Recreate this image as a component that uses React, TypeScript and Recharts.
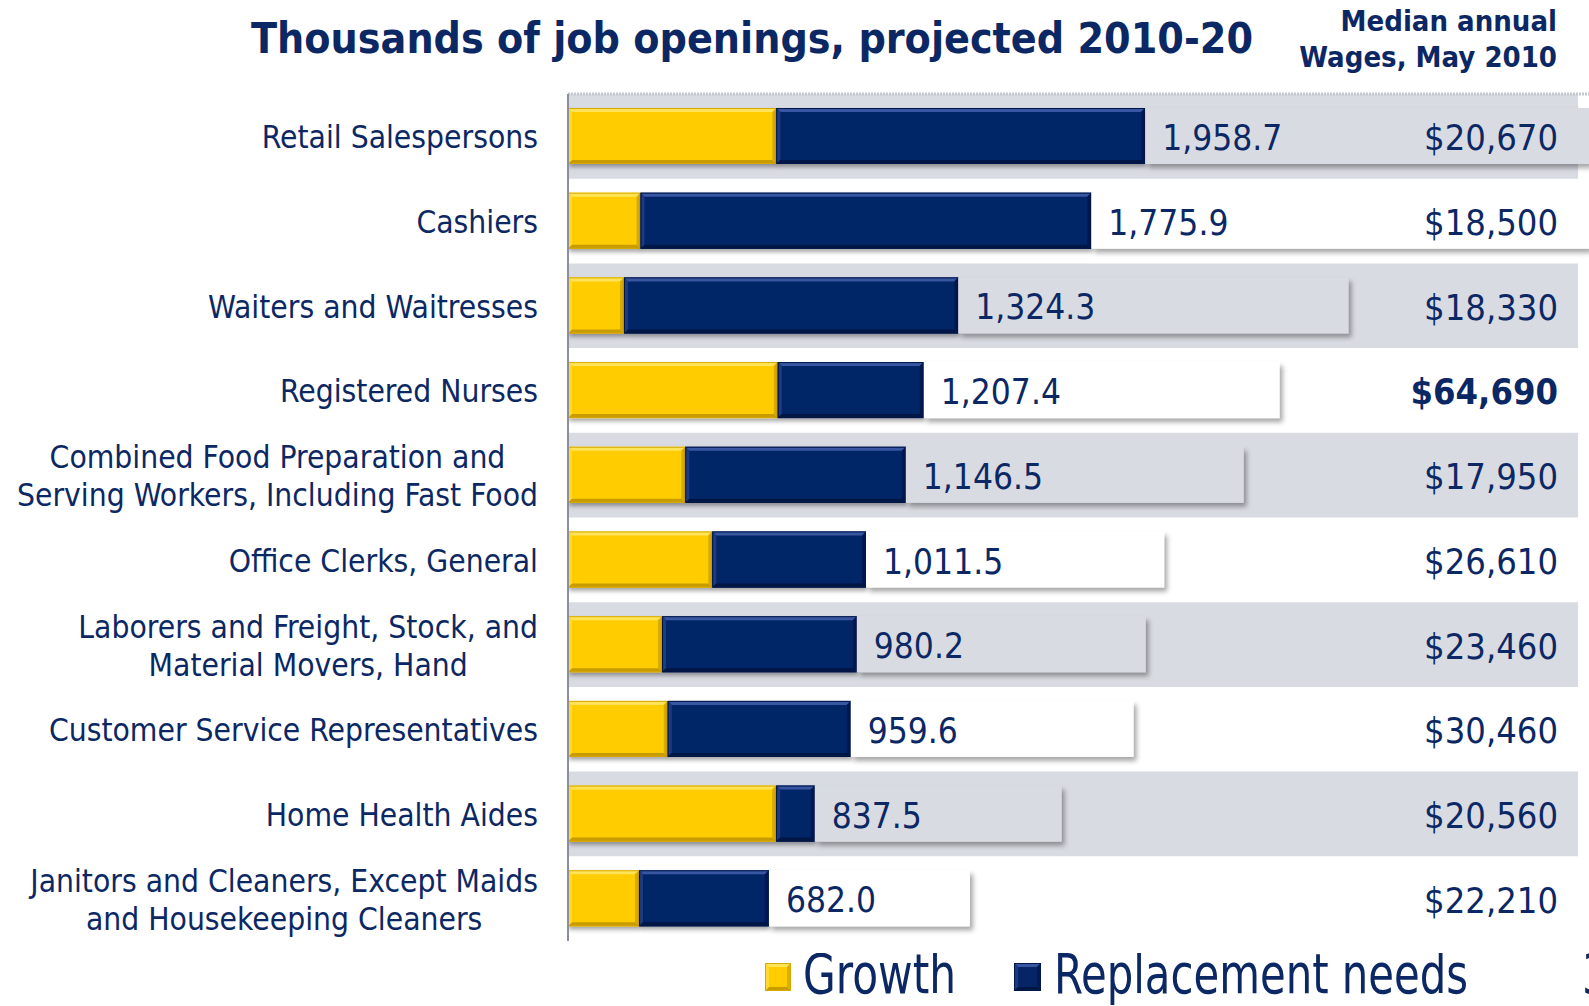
import React from 'react';
import { BarChart, Bar, XAxis, YAxis, ReferenceArea, LabelList, Legend } from 'recharts';

// occupations, top to bottom
const CATEGORIES = [
  'Retail Salespersons',
  'Cashiers',
  'Waiters and Waitresses',
  'Registered Nurses',
  'Combined Food Preparation and\nServing Workers, Including Fast Food',
  'Office Clerks, General',
  'Laborers and Freight, Stock, and\nMaterial Movers, Hand',
  'Customer Service Representatives',
  'Home Health Aides',
  'Janitors and Cleaners, Except Maids\nand Housekeeping Cleaners',
];

// thousands of openings, 2010-20
const GROWTH = [706.8, 246.0, 190.0, 711.9, 398.0, 489.5, 319.1, 338.4, 706.3, 241.0];
const REPLACEMENT = [1251.9, 1529.9, 1134.3, 495.5, 748.5, 522.0, 661.1, 621.2, 131.2, 441.0];

// median annual wages, May 2010
const WAGES = ['$20,670', '$18,500', '$18,330', '$64,690', '$17,950', '$26,610', '$23,460', '$30,460', '$20,560', '$22,210'];
const HIGHLIGHT_ROW = 3;

const SERIES_NAMES = ['Growth', 'Replacement needs'];
const X_MAX = 3465;
const BAND_END = 3428;

const NAVY_TEXT = '#0c2864';
const BAND_GRAY = '#d9dbe2';
const LABEL_FONT = '"DejaVu Sans Condensed", "DejaVu Sans", sans-serif';

const YELLOW = { base: '#ffcc00', top: '#ffe45a', left: '#ffd92e', right: '#dcad00', bottom: '#c89b00', edge: '#d9a900' };
const NAVY = { base: '#062567', top: '#3756a2', left: '#1b3a84', right: '#03194f', bottom: '#021644', edge: '#021848' };

const rows = CATEGORIES.map((name, i) => {
  const total = Math.round((GROWTH[i] + REPLACEMENT[i]) * 10) / 10;
  return { name, growth: GROWTH[i], replacement: REPLACEMENT[i], box: total, total };
});

let measureCtx: CanvasRenderingContext2D | null = null;
function textWidth(s: string, font: string) {
  if (!measureCtx) measureCtx = document.createElement('canvas').getContext('2d');
  if (!measureCtx) return s.length * 14;
  measureCtx.font = font;
  return measureCtx.measureText(s).width;
}

type Pal = typeof YELLOW;

const Bevel = ({ x, y, width, height, pal }: { x: number; y: number; width: number; height: number; pal: Pal }) => {
  if (!width || width <= 0) return null;
  const t = Math.min(4, width / 2, height / 2);
  const x2 = x + width;
  const y2 = y + height;
  return (
    <g>
      <rect x={x} y={y} width={width} height={height} fill={pal.base} />
      <polygon points={`${x},${y} ${x2},${y} ${x2 - t},${y + t} ${x + t},${y + t}`} fill={pal.top} />
      <polygon points={`${x},${y} ${x + t},${y + t} ${x + t},${y2 - t} ${x},${y2}`} fill={pal.left} />
      <polygon points={`${x2},${y} ${x2},${y2} ${x2 - t},${y2 - t} ${x2 - t},${y + t}`} fill={pal.right} />
      <polygon points={`${x},${y2} ${x2},${y2} ${x2 - t},${y2 - t} ${x + t},${y2 - t}`} fill={pal.bottom} />
      <rect x={x + 0.5} y={y + 0.5} width={Math.max(0, width - 1)} height={height - 1} fill="none" stroke={pal.edge} strokeWidth={1} />
    </g>
  );
};

const GrowthShape = (p: any) => (
  <g filter="url(#barShadow)"><Bevel x={p.x} y={p.y} width={p.width} height={p.height} pal={YELLOW} /></g>
);
const ReplacementShape = (p: any) => (
  <g filter="url(#barShadow)"><Bevel x={p.x} y={p.y} width={p.width} height={p.height} pal={NAVY} /></g>
);
const BoxShape = (p: any) => (
  <rect x={p.x} y={p.y} width={Math.max(0, p.width)} height={p.height} fill={p.index % 2 === 0 ? BAND_GRAY : '#ffffff'} filter="url(#boxShadow)" />
);

const CategoryTick = ({ x, y, payload }: any) => {
  const lines = String(payload.value).split('\n');
  const font = `31.5px ${LABEL_FONT}`;
  const w = Math.max(...lines.map((l) => textWidth(l, font)));
  const cx = x - w / 2;
  const lh = 38;
  const first = y + 12 - ((lines.length - 1) * lh) / 2;
  return (
    <text textAnchor="middle" fontFamily={LABEL_FONT} fontSize={31.5} fill={NAVY_TEXT}>
      {lines.map((l, i) => (
        <tspan key={i} x={cx} y={first + i * lh}>{l}</tspan>
      ))}
    </text>
  );
};

const WageTick = ({ x, y, index }: any) => (
  <text x={x} y={y + 14} textAnchor="end" fontFamily={LABEL_FONT} fontSize={36} fontWeight={index === HIGHLIGHT_ROW ? 700 : 400} fill={NAVY_TEXT}>
    {WAGES[index]}
  </text>
);

const TotalLabel = (p: any) => {
  const v = Number(p.value);
  return (
    <text x={p.x + 17} y={p.y + p.height / 2 + 14} fontFamily={LABEL_FONT} fontSize={35} fill={NAVY_TEXT}>
      {v.toLocaleString('en-US', { minimumFractionDigits: 1, maximumFractionDigits: 1 })}
    </text>
  );
};

const renderLegend = () => (
  <svg width={760} height={53} style={{ display: 'block' }}>
    <Bevel x={0} y={10} width={26} height={28} pal={YELLOW} />
    <text transform="translate(38 40) scale(0.84 1)" fontFamily={LABEL_FONT} fontSize={56} fill={NAVY_TEXT}>{SERIES_NAMES[0]}</text>
    <Bevel x={249} y={10} width={27} height={28} pal={NAVY} />
    <text transform="translate(289 40) scale(0.83 1)" fontFamily={LABEL_FONT} fontSize={56} fill={NAVY_TEXT}>{SERIES_NAMES[1]}</text>
  </svg>
);

export default function App() {
  return (
    <div style={{ position: 'relative', width: 1589, height: 1006, overflow: 'hidden', background: '#fff' }}>
      <style>{'body{margin:0;overflow:hidden}'}</style>
      <BarChart layout="vertical" width={1589} height={1006} data={rows} margin={{ top: 93, right: 0, bottom: 65, left: 0 }} barSize={56}>
        <defs>
          <filter id="barShadow" filterUnits="userSpaceOnUse" x={0} y={0} width={1589} height={1006}>
            <feDropShadow dx={1} dy={3} stdDeviation={2} floodColor="#000" floodOpacity={0.35} />
          </filter>
          <filter id="boxShadow" filterUnits="userSpaceOnUse" x={0} y={0} width={1589} height={1006}>
            <feDropShadow dx={3} dy={4} stdDeviation={2.5} floodColor="#000" floodOpacity={0.35} />
          </filter>
        </defs>
        {rows.map((r, i) =>
          i % 2 === 0 ? (
            <ReferenceArea key={`band-${i}`} yAxisId="cat" x1={0} x2={BAND_END} y1={r.name} y2={r.name} fill={BAND_GRAY} fillOpacity={1} stroke="none" />
          ) : null
        )}
        <XAxis type="number" orientation="top" domain={[0, X_MAX]} allowDataOverflow height={1} tick={false} tickLine={false}
          axisLine={{ stroke: '#c6c8d0', strokeWidth: 3, strokeDasharray: '2 1' }} />
        <YAxis yAxisId="cat" type="category" dataKey="name" width={568} tickLine={false} tickSize={0} tickMargin={30}
          axisLine={{ stroke: '#8b8e9c', strokeWidth: 2 }} tick={<CategoryTick />} interval={0} />
        <YAxis yAxisId="wage" type="category" dataKey="name" orientation="right" mirror tickLine={false} tickSize={0} tickMargin={31}
          axisLine={false} tick={<WageTick />} interval={0} />
        <Bar yAxisId="cat" dataKey="growth" name={SERIES_NAMES[0]} stackId="s" fill={YELLOW.base} shape={<GrowthShape />} isAnimationActive={false} />
        <Bar yAxisId="cat" dataKey="replacement" name={SERIES_NAMES[1]} stackId="s" fill={NAVY.base} shape={<ReplacementShape />} isAnimationActive={false} />
        <Bar yAxisId="cat" dataKey="box" stackId="s" fill="#ffffff" legendType="none" shape={<BoxShape />} isAnimationActive={false}>
          <LabelList dataKey="total" content={<TotalLabel />} />
        </Bar>
        <Legend layout="horizontal" verticalAlign="middle" align="center" content={renderLegend}
          wrapperStyle={{ left: 765, top: 953, width: 760, height: 53 }} />
      </BarChart>
      <svg width={1589} height={1006} style={{ position: 'absolute', left: 0, top: 0, pointerEvents: 'none' }}>
        <text x={752} y={53} textAnchor="middle" fontFamily={LABEL_FONT} fontWeight={700} fontSize={42.5} fill={NAVY_TEXT}>
          Thousands of job openings, projected 2010-20
        </text>
        <text x={1557} y={31} textAnchor="end" fontFamily={LABEL_FONT} fontWeight={700} fontSize={29} fill={NAVY_TEXT}>Median annual</text>
        <text x={1557} y={67} textAnchor="end" fontFamily={LABEL_FONT} fontWeight={700} fontSize={29} fill={NAVY_TEXT}>Wages, May 2010</text>
        <text transform="translate(1582 993) scale(0.84 1)" fontFamily={LABEL_FONT} fontSize={56} fill={NAVY_TEXT}>3</text>
      </svg>
    </div>
  );
}
